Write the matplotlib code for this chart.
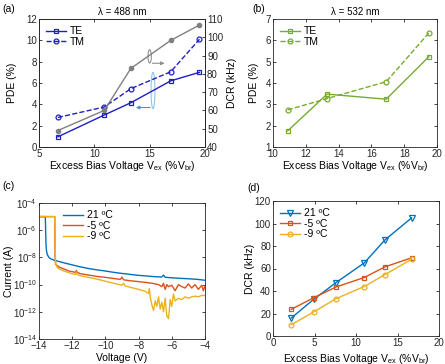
import matplotlib
matplotlib.use("Agg")
import matplotlib.pyplot as plt
from matplotlib.patches import Ellipse
import numpy as np

plt.rcParams['font.family'] = ['Liberation Sans', 'DejaVu Sans']
plt.rcParams['font.size'] = 7.5
plt.rcParams['axes.linewidth'] = 0.6
plt.rcParams['xtick.direction'] = 'in'
plt.rcParams['ytick.direction'] = 'in'
plt.rcParams['xtick.major.size'] = 2.5
plt.rcParams['ytick.major.size'] = 2.5
plt.rcParams['xtick.major.width'] = 0.6
plt.rcParams['ytick.major.width'] = 0.6
plt.rcParams['axes.edgecolor'] = '#262626'
plt.rcParams['xtick.color'] = '#262626'
plt.rcParams['ytick.color'] = '#262626'
plt.rcParams['mathtext.default'] = 'regular'

# (a) 488 nm
vex_a = [6.7, 10.9, 13.3, 16.9, 19.5]
pde_te_a = [0.95, 3.0, 4.15, 6.2, 7.0]
pde_tm_a = [2.77, 3.75, 5.47, 7.05, 10.1]
dcr_a = [49.0, 60.0, 83.0, 98.3, 106.7]

# (b) 532 nm
vex_b = [10.9, 13.3, 16.9, 19.5]
pde_te_b = [1.76, 3.48, 3.24, 5.23]
pde_tm_b = [2.74, 3.27, 4.06, 6.34]

# (c) I-V curves, log10 of current
v_21 = [-14.0, -13.62, -13.6, -13.58, -13.55, -13.5, -13.4, -13.3, -13.1, -12.8,
        -12.5, -12.0, -11.5, -11.0, -10.5, -10.0, -9.5, -9.0, -8.5, -8.0,
        -7.5, -7.0, -6.6, -6.5, -6.4, -6.0, -5.5, -5.0, -4.5, -4.0]
logi_21 = [-5.0, -5.0, -6.0, -7.0, -7.5, -7.8, -8.0, -8.1, -8.2, -8.3,
           -8.4, -8.55, -8.7, -8.82, -8.92, -9.0, -9.1, -9.18, -9.25, -9.32,
           -9.37, -9.42, -9.44, -9.3, -9.46, -9.5, -9.54, -9.57, -9.61, -9.68]
v_m5 = [-14.0, -13.05, -13.03, -13.0, -12.8, -12.5, -12.2, -12.0, -11.8, -11.75,
        -11.7, -11.5, -11.0, -10.5, -10.0, -9.5, -9.1, -9.0, -8.9, -8.5,
        -8.0, -7.5, -7.2, -7.0, -6.8, -6.6, -6.5, -6.4, -6.3, -6.2,
        -6.0, -5.8, -5.6, -5.4, -5.2, -5.0, -4.8, -4.6, -4.4, -4.2, -4.1, -4.0]
logi_m5 = [-5.0, -5.0, -8.0, -8.5, -8.7, -8.85, -9.0, -9.05, -9.1, -8.95,
           -9.1, -9.2, -9.3, -9.4, -9.47, -9.55, -9.62, -9.45, -9.65, -9.72,
           -9.78, -9.85, -9.9, -9.95, -10.0, -10.15, -9.9, -10.35, -10.0, -10.15,
           -10.05, -10.45, -10.0, -10.15, -10.25, -9.95, -10.25, -10.0, -10.35, -10.05, -10.45, -10.1]
v_m9 = [-14.0, -13.05, -13.02, -13.0, -12.9, -12.7, -12.5, -12.0, -11.8, -11.75,
        -11.7, -11.5, -11.0, -10.5, -10.0, -9.5, -9.0, -8.9, -8.8, -8.5,
        -8.0, -7.6, -7.4, -7.35, -7.3, -7.2, -7.1, -7.0, -6.9, -6.8,
        -6.7, -6.6, -6.5, -6.4, -6.3, -6.2, -6.15, -6.1, -6.0, -5.9,
        -5.8, -5.6, -5.4, -5.2, -5.0, -4.8, -4.6, -4.4, -4.2, -4.0]
logi_m9 = [-5.0, -5.0, -7.5, -8.4, -8.75, -8.9, -9.0, -9.2, -9.25, -9.05,
           -9.25, -9.35, -9.47, -9.6, -9.75, -9.9, -10.05, -9.9, -10.1, -10.2,
           -10.35, -10.5, -10.65, -10.3, -10.9, -11.5, -11.9, -11.2, -11.6, -10.9,
           -11.8, -11.3, -12.0, -11.0, -12.3, -12.5, -11.9, -11.1, -11.6, -10.7,
           -11.2, -11.0, -11.1, -10.9, -11.0, -10.9, -10.85, -10.9, -10.8, -10.8]

# (d) DCR vs temperature
vex_d = [2.2, 4.9, 7.6, 11.0, 13.5, 16.7]
dcr_21 = [16.0, 32.6, 47.5, 65.0, 85.5, 105.0]
dcr_m5 = [23.7, 34.0, 43.6, 52.0, 61.5, 69.5]
dcr_m9 = [10.0, 21.4, 33.2, 44.0, 54.6, 68.2]

W, H = 445, 364
fig = plt.figure(figsize=(W / 100, H / 100), dpi=100)

def box(l, r, t, b):
    return [l / W, (H - b) / H, (r - l) / W, (b - t) / H]

xlab = 'Excess Bias Voltage V$_{ex}$ (%V$_{br}$)'
blue = '#1f1fc8'
green = '#77ac30'
mc = ['#0072bd', '#d95319', '#edb120']
leg_kw = dict(loc='upper left', frameon=False, handlelength=1.9, handletextpad=0.4,
              borderaxespad=0.3, labelspacing=0.05, fontsize=7.5)
tick_kw = dict(labelsize=7, pad=1.5)

# ---- (a)
ax = fig.add_axes(box(39, 205, 19, 147))
ax.plot(vex_a, pde_te_a, '-s', color=blue, lw=1.0, ms=3.5, mfc='none', mew=0.9, label='TE')
ax.plot(vex_a, pde_tm_a, '--o', color=blue, lw=1.0, ms=3.5, mfc='none', mew=0.9, label='TM')
ax.set_xlim(5, 20)
ax.set_ylim(0, 12)
ax.set_xticks([5, 10, 15, 20])
ax.set_yticks(range(0, 13, 2))
ax.set_xlabel(xlab)
ax.xaxis.set_label_coords(0.5, -0.09)
ax.set_ylabel('PDE (%)')
ax.yaxis.set_label_coords(-0.135, 0.5)
ax.set_title('λ = 488 nm', fontsize=7, pad=3)
ax.legend(**leg_kw)
ax.add_patch(Ellipse((15.0, 8.5), 0.3, 1.25, fill=False, color='#909090', lw=0.8))
ax.annotate('', xy=(16.6, 7.85), xytext=(15.0, 7.85),
            arrowprops=dict(arrowstyle='-|>', color='#909090', lw=0.8, mutation_scale=5))
ax.add_patch(Ellipse((15.3, 5.3), 0.35, 3.4, fill=False, color='#8ec8e8', lw=0.8))
ax.annotate('', xy=(13.5, 3.7), xytext=(15.3, 3.7),
            arrowprops=dict(arrowstyle='-|>', color='#5b8fc9', lw=0.8, mutation_scale=5))
ax.tick_params(top=True, **tick_kw)
ax2 = ax.twinx()
ax2.plot(vex_a, dcr_a, '-o', color='#808080', lw=1.0, ms=3, mfc='#808080', mec='#808080')
ax2.set_ylim(40, 110)
ax2.set_yticks(range(40, 111, 10))
ax2.set_ylabel('DCR (kHz)', labelpad=3)
ax2.tick_params(**tick_kw)

# ---- (b)
ax = fig.add_axes(box(273, 437, 19, 147))
ax.plot(vex_b, pde_te_b, '-s', color=green, lw=1.0, ms=3.5, mfc='none', mew=0.9, label='TE')
ax.plot(vex_b, pde_tm_b, '--o', color=green, lw=1.0, ms=3.5, mfc='none', mew=0.9, label='TM')
ax.set_xlim(10, 20)
ax.set_ylim(1, 7)
ax.set_xticks(range(10, 21, 2))
ax.set_yticks(range(1, 8))
ax.set_xlabel(xlab)
ax.xaxis.set_label_coords(0.5, -0.09)
ax.set_ylabel('PDE (%)')
ax.yaxis.set_label_coords(-0.085, 0.5)
ax.set_title('λ = 532 nm', fontsize=7, pad=3)
ax.legend(**leg_kw)
ax.tick_params(top=True, right=True, **tick_kw)

# ---- (c)
ax = fig.add_axes(box(39, 205, 203, 339))
ax.plot(v_21, np.power(10.0, logi_21), color=mc[0], lw=1.0, label='21 ºC')
ax.plot(v_m5, np.power(10.0, logi_m5), color=mc[1], lw=1.0, label='-5 ºC')
ax.plot(v_m9, np.power(10.0, logi_m9), color=mc[2], lw=1.0, label='-9 ºC')
ax.set_yscale('log')
ax.set_xlim(-14, -4)
ax.set_ylim(1e-14, 1e-4)
ax.set_xticks(range(-14, -3, 2))
ax.set_yticks([1e-14, 1e-12, 1e-10, 1e-8, 1e-6, 1e-4])
ax.minorticks_off()
ax.set_xlabel('Voltage (V)')
ax.xaxis.set_label_coords(0.5, -0.1)
ax.set_ylabel('Current (A)')
ax.yaxis.set_label_coords(-0.15, 0.5)
ax.legend(bbox_to_anchor=(0.1, 1.0), **leg_kw)
ax.tick_params(top=True, right=True, **tick_kw)

# ---- (d)
ax = fig.add_axes(box(273, 439, 201, 336))
ax.plot(vex_d, dcr_21, '-v', color=mc[0], lw=1.0, ms=4, mfc='none', mew=0.9, label='21 ºC')
ax.plot(vex_d, dcr_m5, '-s', color=mc[1], lw=1.0, ms=3.5, mfc='none', mew=0.9, label='-5 ºC')
ax.plot(vex_d, dcr_m9, '-o', color=mc[2], lw=1.0, ms=3.5, mfc='none', mew=0.9, label='-9 ºC')
ax.set_xlim(0, 20)
ax.set_ylim(0, 120)
ax.set_xticks(range(0, 21, 5))
ax.set_yticks(range(0, 121, 20))
ax.set_xlabel(xlab)
ax.xaxis.set_label_coords(0.5, -0.115)
ax.set_ylabel('DCR (kHz)')
ax.yaxis.set_label_coords(-0.11, 0.5)
ax.legend(**leg_kw)
ax.tick_params(top=True, right=True, **tick_kw)

fig.text(2 / W, 1 - 12 / H, '(a)', fontsize=7.5)
fig.text(252 / W, 1 - 12 / H, '(b)', fontsize=7.5)
fig.text(2 / W, 1 - 189 / H, '(c)', fontsize=7.5)
fig.text(247 / W, 1 - 191 / H, '(d)', fontsize=7.5)

fig.savefig('out.png', dpi=100)
